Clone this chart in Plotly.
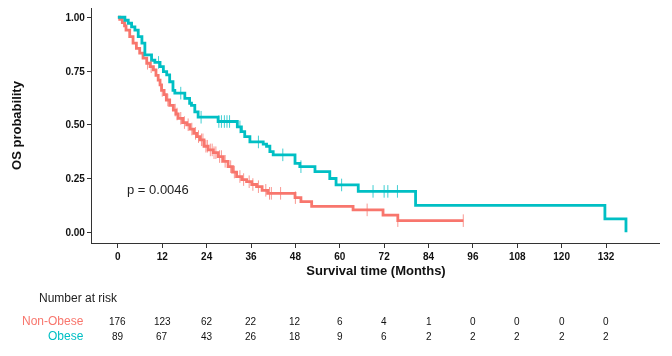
import numpy as np
import plotly.graph_objects as go

# ---- data ----
obese_time = [0, 1.9, 2.8, 3.7, 4.6, 5.5, 6.5, 7.3, 9.1, 10.0, 11.4, 12.3, 13.2, 14.0, 14.9, 15.4,
              18.1, 19.4, 19.9, 20.8, 21.7, 27.1, 32.3, 33.4, 34.3, 35.7, 39.3, 40.2, 41.1, 42.0,
              47.9, 49.2, 53.3, 57.3, 59.0, 65.0, 80.5, 131.7, 137.4]
obese_surv = [1.0, 0.986, 0.972, 0.955, 0.94, 0.91, 0.88, 0.825, 0.80, 0.79, 0.77, 0.747, 0.732, 0.70,
              0.66, 0.647, 0.623, 0.60, 0.59, 0.56, 0.535, 0.515, 0.49, 0.468, 0.445, 0.42, 0.41, 0.40,
              0.375, 0.36, 0.32, 0.305, 0.282, 0.25, 0.22, 0.19, 0.125, 0.062, 0.0]
obese_censor = [11.0, 17.0, 22.5, 27.3, 28.0, 28.8, 29.5, 30.2, 33.0, 38.0, 44.6, 49.5, 60.5,
                69.0, 72.0, 73.0, 75.6]

nonobese_time = [0, 0.5, 1.2, 1.8, 2.2, 3.2, 4.1, 5.0, 5.9, 6.8, 7.8, 8.7, 9.6, 10.3, 10.9, 11.4,
                 11.8, 12.5, 13.1, 14.0, 15.0, 15.7, 16.3, 17.5, 18.6, 19.5, 20.5, 21.3, 22.2, 23.3,
                 24.4, 25.8, 27.1, 28.5, 29.8, 31.0, 32.1, 33.5, 34.8, 36.2, 37.5, 39.0, 40.5, 47.9,
                 49.5, 52.4, 63.6, 71.7, 75.7]
nonobese_surv = [1.0, 0.99, 0.975, 0.96, 0.94, 0.91, 0.88, 0.855, 0.833, 0.81, 0.786, 0.77, 0.755,
                 0.73, 0.708, 0.685, 0.66, 0.64, 0.615, 0.59, 0.568, 0.55, 0.53, 0.51, 0.50, 0.48,
                 0.46, 0.445, 0.43, 0.40, 0.383, 0.37, 0.352, 0.33, 0.305, 0.28, 0.259, 0.245, 0.235,
                 0.222, 0.212, 0.195, 0.181, 0.161, 0.142, 0.12, 0.104, 0.08, 0.054]
nonobese_censor = [8.0, 9.0, 12.0, 13.5, 15.5, 16.0, 17.0, 18.0, 19.0, 20.0, 21.0, 21.8, 22.6, 23.0,
                   23.8, 24.2, 25.0, 25.5, 26.0, 26.5, 27.5, 28.0, 29.0, 30.5, 31.5, 33.0, 34.0, 35.5,
                   36.5, 38.0, 40.0, 41.0, 41.5, 44.0, 48.0, 67.4, 75.7, 93.4]
nonobese_end = 93.4

risk_times = [0, 12, 24, 36, 48, 60, 72, 84, 96, 108, 120, 132]
risk_nonobese = [176, 123, 62, 22, 12, 6, 4, 1, 0, 0, 0, 0]
risk_obese = [89, 67, 43, 26, 18, 9, 6, 2, 2, 2, 2, 2]

y_ticks = [0.0, 0.25, 0.5, 0.75, 1.0]
y_ticklabels = ["0.00", "0.25", "0.50", "0.75", "1.00"]
p_text = "p = 0.0046"

RED = "#F8766D"
TEAL = "#00BFC4"

# page has an 8px body margin; the figure is sized to fit the remaining window
OFF = 8
W, H = 672 - OFF, 356 - OFF
ML, MR, MT, MB = 92 - OFF, 12, 0, 113
PW, PH = W - ML - MR, H - MT - MB


def surv_at(t, times, surv):
    i = np.searchsorted(np.array(times), t, side="right") - 1
    return surv[max(i, 0)]


def px_x(px):  # page pixel -> paper x
    return (px - OFF - ML) / PW


def px_y(py):  # page pixel -> paper y
    return (H - MB - (py - OFF)) / PH


fig = go.Figure()

nx = list(nonobese_time) + [nonobese_end]
ny = list(nonobese_surv) + [nonobese_surv[-1]]
fig.add_trace(go.Scatter(x=nx, y=ny, mode="lines", line=dict(color=RED, width=2.8, shape="hv"),
                         showlegend=False, hoverinfo="skip"))
fig.add_trace(go.Scatter(x=obese_time, y=obese_surv, mode="lines",
                         line=dict(color=TEAL, width=2.8, shape="hv"),
                         showlegend=False, hoverinfo="skip"))

fig.add_trace(go.Scatter(x=nonobese_censor,
                         y=[surv_at(t, nonobese_time, nonobese_surv) for t in nonobese_censor],
                         mode="markers",
                         marker=dict(symbol="line-ns", size=9, line=dict(color=RED, width=1)),
                         opacity=0.75, showlegend=False, hoverinfo="skip"))
fig.add_trace(go.Scatter(x=obese_censor,
                         y=[surv_at(t, obese_time, obese_surv) for t in obese_censor],
                         mode="markers",
                         marker=dict(symbol="line-ns", size=9, line=dict(color=TEAL, width=1)),
                         opacity=0.75, showlegend=False, hoverinfo="skip"))

NARROW = "Liberation Sans Narrow, Liberation Sans, Arial"

fig.update_layout(
    width=W, height=H,
    margin=dict(l=ML, r=MR, t=MT, b=MB),
    paper_bgcolor="white", plot_bgcolor="white",
    xaxis=dict(range=[-7.0, 146.6], tickvals=risk_times,
               ticktext=["<b>%d</b>" % t for t in risk_times],
               ticks="outside", ticklen=4, automargin=False,
               tickcolor="#333", showline=True, linecolor="#333", linewidth=1.2,
               showgrid=False, zeroline=False,
               tickfont=dict(family=NARROW, size=10, color="#111"),
               title=dict(text="<b>Survival time (Months)</b>", standoff=4,
                          font=dict(family=NARROW, size=13, color="#111"))),
    yaxis=dict(range=[-0.05, 1.043], tickvals=y_ticks,
               ticktext=["<b>%s</b>" % s for s in y_ticklabels],
               ticks="outside", ticklen=4, automargin=False,
               tickcolor="#333", showline=True, linecolor="#333",
               linewidth=1.2, showgrid=False, zeroline=False,
               tickfont=dict(family=NARROW, size=10, color="#111"),
               title=dict(text="<b>OS probability</b>", standoff=40,
                          font=dict(family="Liberation Sans, Arial", size=13, color="#111"))),
)

fig.add_annotation(x=2, y=0.197, xref="x", yref="y", text=p_text, showarrow=False,
                   xanchor="left", font=dict(family="Liberation Sans, Arial", size=13, color="#222"))

fig.add_annotation(x=px_x(37), y=px_y(298), xref="paper", yref="paper", text="Number at risk",
                   showarrow=False, xanchor="left", yanchor="middle",
                   font=dict(family=NARROW, size=12, color="#222"))
for label, color, row_y in [("Non-Obese", RED, 321), ("Obese", TEAL, 336)]:
    fig.add_annotation(x=px_x(86), y=px_y(row_y), xref="paper", yref="paper", text=label,
                       showarrow=False, xanchor="right", yanchor="middle",
                       font=dict(family=NARROW, size=12, color=color))
for t, a, b in zip(risk_times, risk_nonobese, risk_obese):
    fig.add_annotation(x=t, y=px_y(321), xref="x", yref="paper", text=str(a),
                       showarrow=False, yanchor="middle",
                       font=dict(family=NARROW, size=10, color="#111"))
    fig.add_annotation(x=t, y=px_y(336), xref="x", yref="paper", text=str(b),
                       showarrow=False, yanchor="middle",
                       font=dict(family=NARROW, size=10, color="#111"))

fig.write_html("out.html")
